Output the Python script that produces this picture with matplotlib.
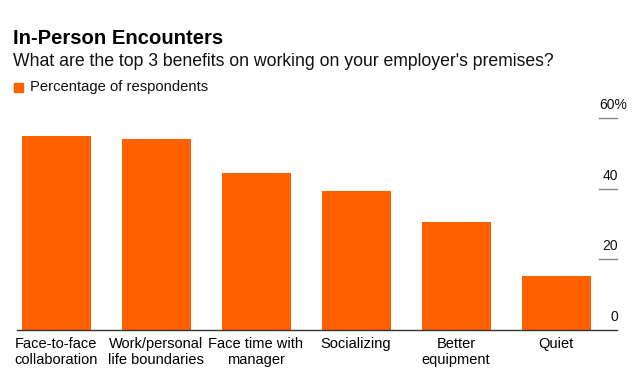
import numpy as np
import matplotlib.pyplot as plt

plt.rcParams['font.family'] = ['Liberation Sans', 'DejaVu Sans']

categories = ["Face-to-face\ncollaboration", "Work/personal\nlife boundaries",
              "Face time with\nmanager", "Socializing", "Better\nequipment", "Quiet"]
values = [55, 54, 44.5, 39.3, 30.5, 15.3]
yticks = [0, 20, 40, 60]

orange = '#ff6000'

fig = plt.figure(figsize=(6.4, 3.8), dpi=100)
ax = fig.add_axes([17/640, 1 - 330/380, 600/640, 212/380])

x = np.arange(len(values))
ax.bar(x, values, width=0.69, color=orange, zorder=2)
ax.set_xlim(-0.39, 5.61)
ax.set_ylim(0, 60)

# baseline
ax.axhline(0, color='#333333', lw=1.0, zorder=3, clip_on=False)

# right-side ticks: short line under each number
for t in yticks:
    if t > 0:
        ax.plot([5.43, 5.61], [t, t], color='#888888', lw=1.0, clip_on=False)
    label = str(t)
    if t == yticks[-1]:
        ax.annotate(label + '%', xy=(5.61, t), xytext=(-18, 13), textcoords='offset pixels',
                    ha='left', va='center', fontsize=10, color='#111111',
                    annotation_clip=False)
    else:
        ax.annotate(label, xy=(5.61, t), xytext=(1, 13), textcoords='offset pixels',
                    ha='right', va='center', fontsize=10, color='#111111',
                    annotation_clip=False)

ax.set_yticks([])
ax.set_xticks(x)
ax.set_xticklabels(categories, fontsize=10.5, linespacing=1.2)
ax.tick_params(axis='x', length=0, pad=5)
for s in ax.spines.values():
    s.set_visible(False)

fig.text(13/640, 1 - 38/380, "In-Person Encounters", fontsize=14.6, fontweight='bold',
         va='center', ha='left', color='#000000')
fig.text(13/640, 1 - 62/380, "What are the top 3 benefits on working on your employer's premises?",
         fontsize=12.7, va='center', ha='left', color='#111111')
fig.patches.append(plt.Rectangle((14/640, 1 - 92/380), 9/640, 9/380,
                                 transform=fig.transFigure, color=orange))
fig.text(30/640, 1 - 87/380, "Percentage of respondents", fontsize=10.6,
         va='center', ha='left', color='#111111')

fig.savefig('out.png', dpi=100)
